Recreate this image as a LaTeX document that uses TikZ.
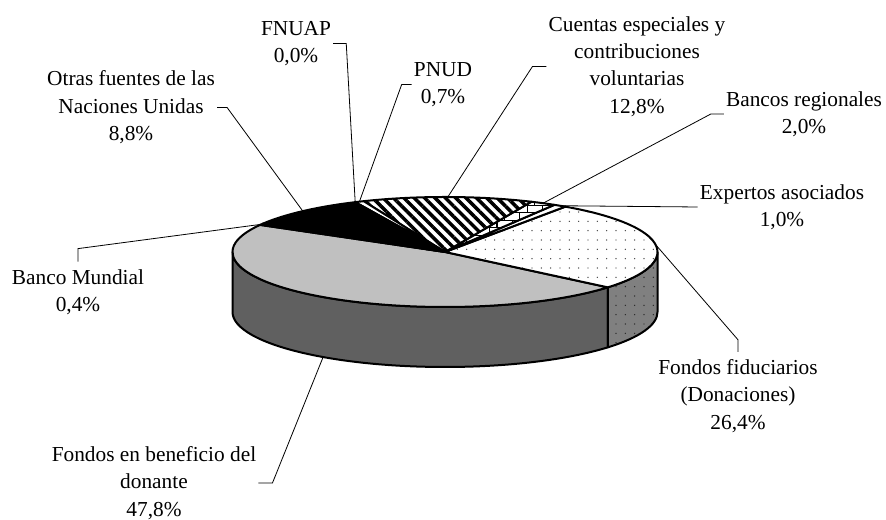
\documentclass[tikz,border=0pt]{standalone}
\usepackage{fontspec}
\setmainfont{Liberation Serif}
\usetikzlibrary{patterns,patterns.meta}
\definecolor{topgrey}{RGB}{192,192,192}
\definecolor{sidegrey}{RGB}{96,96,96}
\definecolor{dotside}{RGB}{128,128,128}
\tikzset{lbl/.style={align=center, inner sep=1.5pt, font=\fontsize{16}{20.6}\selectfont},
  leader/.style={line width=0.6pt},
  slice/.style={draw=black, line width=1.5pt, line join=round},
  dotted top/.style={preaction={fill=white}, pattern={Dots[distance=7pt,radius=0.55pt]}, pattern color=black!75},
  dotted side/.style={preaction={fill=dotside}, pattern={Dots[distance=7pt,radius=0.55pt]}, pattern color=black!85},
  striped/.style={preaction={fill=white}, pattern={Lines[angle=-45,distance=5.5pt,line width=2.6pt]}, pattern color=black},
  bricked/.style={preaction={fill=white}, pattern=bricks, pattern color=black}}
\newcommand{\pieslice}[3]{\path[slice,#1] (c) -- ([shift={(#2:212.5 and 55)}]c) arc[start angle=#2, end angle=#3, x radius=212.5, y radius=55] -- cycle;}
\newcommand{\pieside}[3]{\path[slice,#1] ([shift={(#2:212.5 and 55)}]c) arc[start angle=#2, end angle=#3, x radius=212.5, y radius=55] -- ([shift={(#3:212.5 and 55)}]cb) arc[start angle=#3, end angle=#2, x radius=212.5, y radius=55] -- cycle;}
\begin{document}
\begin{tikzpicture}[x=0.75pt,y=0.75pt]
\useasboundingbox (0,0) rectangle (886,520);
\coordinate (c) at (445,268);
\coordinate (cb) at (445,208);

\pieside{fill=sidegrey}{180}{320}
\pieside{dotted side}{320}{360}

\pieslice{fill=topgrey}{150.5}{320}
\pieslice{dotted top}{-40}{55.5}
\pieslice{fill=white}{55.5}{59}
\pieslice{bricked}{59}{66}
\pieslice{striped}{66}{112.5}
\pieslice{fill=white}{112.5}{115}
\pieslice{fill=black}{115}{149}
\pieslice{fill=white}{149}{150.5}

\coordinate (r-fiduciarios) at ([shift={(7.75:212.5 and 55)}]c);
\coordinate (r-expertos) at ([shift={(57.25:212.5 and 55)}]c);
\coordinate (r-bancos) at ([shift={(62.5:212.5 and 55)}]c);
\coordinate (r-cuentas) at ([shift={(89.25:212.5 and 55)}]c);
\coordinate (r-pnud) at ([shift={(113.75:212.5 and 55)}]c);
\coordinate (r-fnuap) at ([shift={(115:212.5 and 55)}]c);
\coordinate (r-otras) at ([shift={(132:212.5 and 55)}]c);
\coordinate (r-mundial) at ([shift={(149.75:212.5 and 55)}]c);
\coordinate (r-beneficio) at ([shift={(235:212.5 and 55)}]cb);

\node[lbl] (fnuap) at (296,476.5) {FNUAP\\0,0\%};
\node[lbl] (pnud) at (443,435.5) {PNUD\\0,7\%};
\node[lbl] (otras) at (131,412.5) {Otras fuentes de las\\Naciones Unidas\\8,8\%};
\node[lbl] (cuentas) at (637,453.5) {Cuentas especiales y\\contribuciones\\voluntarias\\12,8\%};
\node[lbl] (bancos) at (804,406) {Bancos regionales\\2,0\%};
\node[lbl] (expertos) at (782,313) {Expertos asociados\\1,0\%};
\node[lbl] (mundial) at (78,228) {Banco Mundial\\0,4\%};
\node[lbl] (fiduciarios) at (738,124) {Fondos fiduciarios\\(Donaciones)\\26,4\%};
\node[lbl] (beneficio) at (154,37) {Fondos en beneficio del\\donante\\47,8\%};

\draw[leader] (fnuap.east) -- ++(13,0) -- (r-fnuap);
\draw[leader] (pnud.west) -- ++(-10,0) -- (r-pnud);
\draw[leader] (otras.east) -- ++(10,0) -- (r-otras);
\draw[leader] (cuentas.west) -- ++(-14,0) -- (r-cuentas);
\draw[leader] (bancos.west) -- ++(-13,0) -- (r-bancos);
\draw[leader] (expertos.west) -- (r-expertos);
\draw[leader] ([yshift=4pt]mundial.north) -- ++(0,13) -- (r-mundial);
\draw[leader] ([yshift=4pt]fiduciarios.north) -- ++(0,12) -- (r-fiduciarios);
\draw[leader] (beneficio.east) -- ++(14,0) -- (r-beneficio);
\end{tikzpicture}
\end{document}
